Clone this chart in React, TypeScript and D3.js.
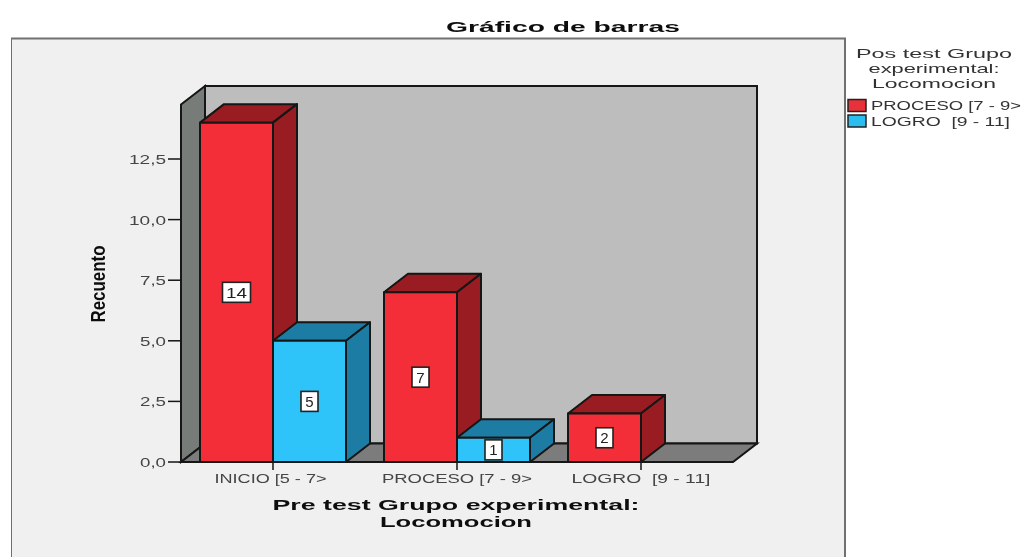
import React from "react";
import * as d3 from "d3";

const categories = ["INICIO [5 - 7>", "PROCESO [7 - 9>", "LOGRO  [9 - 11]"];
const seriesNames = ["PROCESO [7 - 9>", "LOGRO  [9 - 11]"];
const procesoValues = [14, 7, 2];
const logroValues = [5, 1, 0];
const yTicks = [0, 2.5, 5, 7.5, 10, 12.5];
const xLabelWidths = [112, 150, 139];
const labelBoxWidths = [28, 17];

const W = 1022, H = 557;
const x0 = 181, x1 = 733, dx = 24, dy = 18.5;
const yBase = 462, perUnit = 24.24;
const y = d3.scaleLinear().domain([0, 12.5]).range([yBase, yBase - 12.5 * perUnit]);
const x = d3.scaleBand<string>().domain(categories).range([x0, x1]);
const wallTop = y(0) - 376;
const barW = 73;

const colors = [
  { front: "#f32f37", dark: "#981c20", key: "#e8323a" },
  { front: "#2fc4f9", dark: "#1f7ba3", key: "#2bbdef" },
];
const STROKE = "#141414";
const FONT = "'Liberation Sans', Arial, sans-serif";
const pts = (a: number[][]) => a.map((p) => p.join(",")).join(" ");

function Bar({ left, value, c }: { left: number; value: number; c: (typeof colors)[0] }) {
  const top = y(value), base = y(0), r = left + barW;
  return (
    <g stroke={STROKE} strokeWidth={2} strokeLinejoin="round">
      <polygon points={pts([[left, top], [left + dx, top - dy], [r + dx, top - dy], [r, top]])} fill={c.dark} />
      <polygon points={pts([[r, top], [r + dx, top - dy], [r + dx, base - dy], [r, base]])} fill={c.dark} />
      <rect x={left} y={top} width={barW} height={base - top} fill={c.front} />
    </g>
  );
}

function ValueLabel({ cx, value }: { cx: number; value: number }) {
  const wide = String(value).length > 1;
  const w = wide ? labelBoxWidths[0] : labelBoxWidths[1];
  const cy = y(value / 2);
  return (
    <g>
      <rect x={cx - w / 2} y={cy - 10} width={w} height={20} fill="#fff" stroke="#222" strokeWidth={1.6} />
      <text x={cx} y={cy + 5.5} textAnchor="middle" fontFamily={FONT} fontSize={15} fill="#222" textLength={wide ? 21 : undefined} lengthAdjust="spacingAndGlyphs">{value}</text>
    </g>
  );
}

export default function App() {
  const base = y(0);
  return (
    <svg width={W} height={H} viewBox={`0 0 ${W} ${H}`} style={{ position: "absolute", left: 0, top: 0, background: "#fff" }}>
      <defs>
        <filter id="soft" x="0" y="0" width="100%" height="100%">
          <feGaussianBlur stdDeviation="0.6" />
        </filter>
      </defs>
      <g filter="url(#soft)">
        <rect x={11} y={38.5} width={834} height={H} fill="#f0f0f0" stroke="#707070" strokeWidth={2} />
        <text x={446} y={32} fontFamily={FONT} fontSize={15} fontWeight={700} fill="#111" textLength={234} lengthAdjust="spacingAndGlyphs">Gráfico de barras</text>

        <polygon points={pts([[x0 + dx, wallTop], [x1 + dx, wallTop], [x1 + dx, base - dy], [x0 + dx, base - dy]])} fill="#bdbdbd" stroke={STROKE} strokeWidth={2} />
        <polygon points={pts([[x0, wallTop + dy], [x0 + dx, wallTop], [x0 + dx, base - dy], [x0, base]])} fill="#777b78" stroke={STROKE} strokeWidth={2} />
        <polygon points={pts([[x0, base], [x0 + dx, base - dy], [x1 + dx, base - dy], [x1, base]])} fill="#7b7b7b" stroke={STROKE} strokeWidth={2} />

        {yTicks.map((t) => (
          <g key={t}>
            <line x1={168} x2={x0} y1={y(t)} y2={y(t)} stroke={STROKE} strokeWidth={1.5} />
            <text x={166} y={y(t) + 5} textAnchor="end" fontFamily={FONT} fontSize={12} fill="#444" textLength={t >= 10 ? 37 : 26} lengthAdjust="spacingAndGlyphs">
              {d3.format(".1f")(t).replace(".", ",")}
            </text>
          </g>
        ))}

        {categories.map((cat, i) => {
          const mid = x(cat)! + x.bandwidth() / 2;
          return (
            <g key={cat}>
              {procesoValues[i] > 0 && <Bar left={mid - barW} value={procesoValues[i]} c={colors[0]} />}
              {logroValues[i] > 0 && <Bar left={mid} value={logroValues[i]} c={colors[1]} />}
              <line x1={mid} x2={mid} y1={base} y2={base + 8} stroke={STROKE} strokeWidth={1.5} />
            </g>
          );
        })}
        {categories.map((cat, i) => {
          const mid = x(cat)! + x.bandwidth() / 2;
          return (
            <g key={cat + "l"}>
              {procesoValues[i] > 0 && <ValueLabel cx={mid - barW / 2} value={procesoValues[i]} />}
              {logroValues[i] > 0 && <ValueLabel cx={mid + barW / 2} value={logroValues[i]} />}
              <text x={i === 0 ? mid - 2.5 : mid} y={483} textAnchor="middle" fontFamily={FONT} fontSize={12} fill="#444" textLength={xLabelWidths[i]} lengthAdjust="spacingAndGlyphs" xmlSpace="preserve">{cat}</text>
            </g>
          );
        })}

        <text x={456} y={510} textAnchor="middle" fontFamily={FONT} fontSize={15} fontWeight={700} fill="#111" textLength={367} lengthAdjust="spacingAndGlyphs">Pre test Grupo experimental:</text>
        <text x={456} y={527} textAnchor="middle" fontFamily={FONT} fontSize={15} fontWeight={700} fill="#111" textLength={152} lengthAdjust="spacingAndGlyphs">Locomocion</text>
        <text transform="translate(105,284) rotate(-90)" textAnchor="middle" fontFamily={FONT} fontSize={21} fontWeight={700} fill="#111" textLength={77} lengthAdjust="spacingAndGlyphs">Recuento</text>

        <text x={934} y={58} textAnchor="middle" fontFamily={FONT} fontSize={13} fill="#333" textLength={156} lengthAdjust="spacingAndGlyphs">Pos test Grupo</text>
        <text x={934} y={73} textAnchor="middle" fontFamily={FONT} fontSize={13} fill="#333" textLength={131} lengthAdjust="spacingAndGlyphs">experimental:</text>
        <text x={934} y={88} textAnchor="middle" fontFamily={FONT} fontSize={13} fill="#333" textLength={124} lengthAdjust="spacingAndGlyphs">Locomocion</text>
        {seriesNames.map((s, i) => (
          <g key={s}>
            <rect x={848} y={99.5 + i * 15.5} width={18} height={12} fill={colors[i].key} stroke="#222" strokeWidth={1.5} />
            <text x={871} y={110 + i * 15.5} fontFamily={FONT} fontSize={12} fill="#333" textLength={i === 0 ? 150 : 139} lengthAdjust="spacingAndGlyphs" xmlSpace="preserve">{s}</text>
          </g>
        ))}
      </g>
    </svg>
  );
}
